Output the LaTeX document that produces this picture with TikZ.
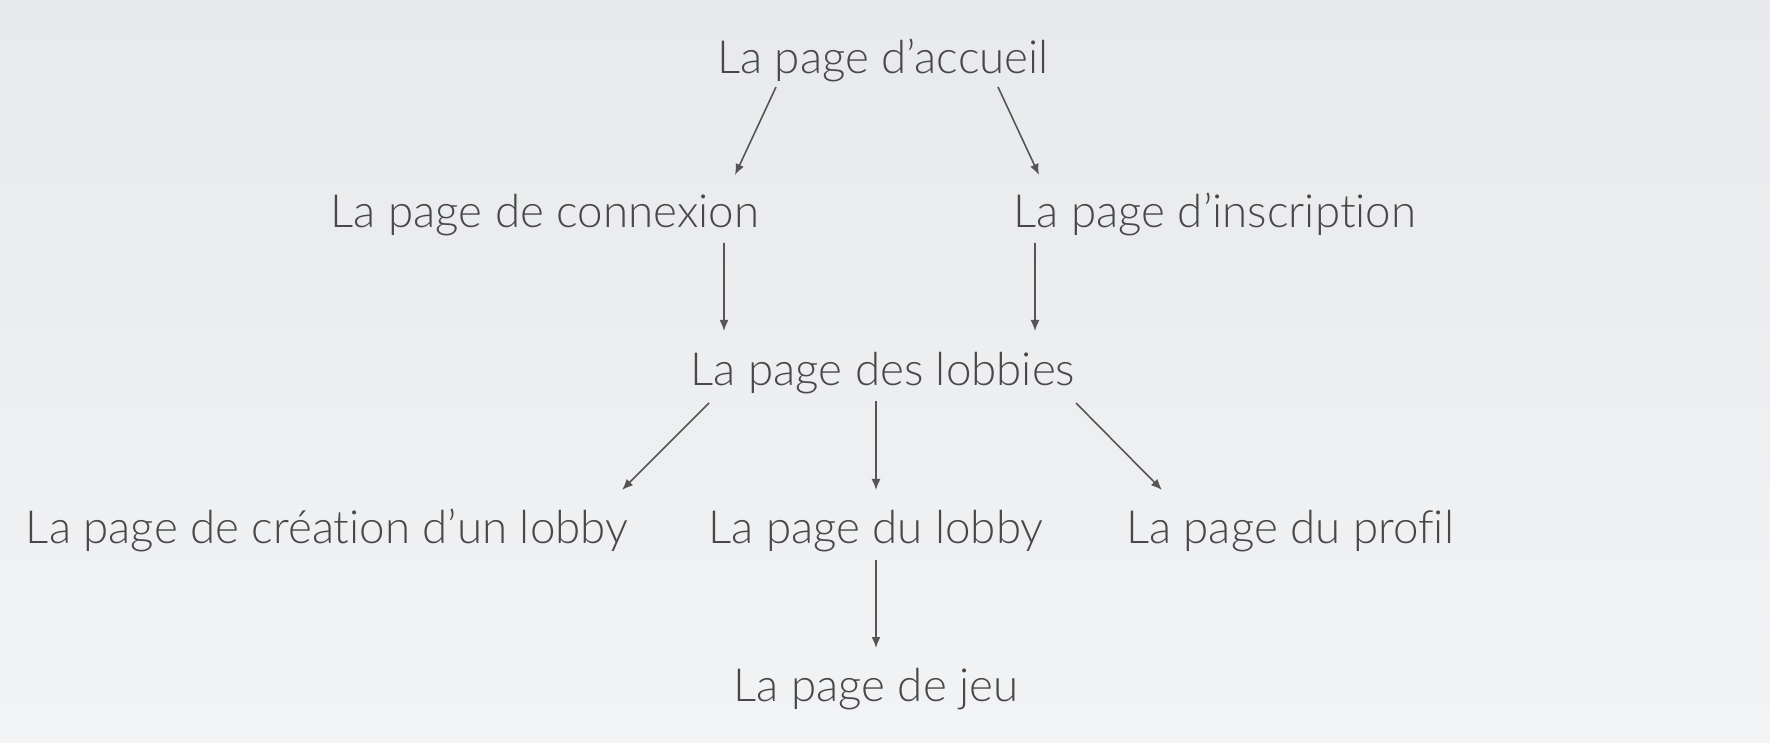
\documentclass[tikz,border=0pt]{standalone}
\usepackage{fontspec}
\setmainfont[Ligatures=NoCommon]{Lato Light}
\usepackage{xcolor}
\usetikzlibrary{arrows.meta}
\usetikzlibrary{positioning}
\definecolor{txtgray}{HTML}{484848}
\definecolor{arrgray}{HTML}{555555}
\definecolor{bgtop}{HTML}{E7E9EC}
\definecolor{bgbot}{HTML}{F2F3F5}

\begin{document}
\begin{tikzpicture}[page/.style={text=txtgray,font=\fontsize{13}{16}\selectfont,anchor=base,inner sep=0pt},
        link/.style={draw=arrgray,line width=0.45pt,-{Latex[length=1.1mm,width=0.9mm]}}]
        \shade[top color=bgtop,bottom color=bgbot] (0,0) rectangle (17.70,7.42);
        \useasboundingbox (0,0) rectangle (17.70,7.42);

        \node[page] (accueil) at (8.83,6.68) {La page d’accueil};
        \node[page] (connexion) at (5.45,5.14) {La page de connexion};
        \node[page] (inscription) at (12.15,5.14) {La page d’inscription};
        \node[page] (lobbies) at (8.83,3.56) {La page des lobbies};
        \node[page] (creation) at (3.27,1.98) {La page de création d’un lobby};
        \node[page] (lobby) at (8.76,1.98) {La page du lobby};
        \node[page] (profil) at (12.90,1.98) {La page du profil};
        \node[page] (jeu) at (8.76,0.40) {La page de jeu};

        \draw[link] ([shift={(-1.07,-0.13)}]accueil.base) -- ([shift={(1.90,0.53)}]connexion.base);
        \draw[link] ([shift={(1.15,-0.13)}]accueil.base) -- ([shift={(-1.76,0.53)}]inscription.base);
        \draw[link] ([shift={(1.79,-0.15)}]connexion.base) -- ([shift={(-1.59,0.55)}]lobbies.base);
        \draw[link] ([shift={(-1.80,-0.15)}]inscription.base) -- ([shift={(1.52,0.55)}]lobbies.base);
        \draw[link] ([shift={(-1.74,-0.17)}]lobbies.base) -- ([shift={(2.95,0.54)}]creation.base);
        \draw[link] ([shift={(-0.07,-0.15)}]lobbies.base) -- ([shift={(0,0.54)}]lobby.base);
        \draw[link] ([shift={(1.93,-0.17)}]lobbies.base) -- ([shift={(-1.28,0.54)}]profil.base);
        \draw[link] ([shift={(0,-0.16)}]lobby.base) -- ([shift={(0,0.54)}]jeu.base);
    \end{tikzpicture}
\end{document}
